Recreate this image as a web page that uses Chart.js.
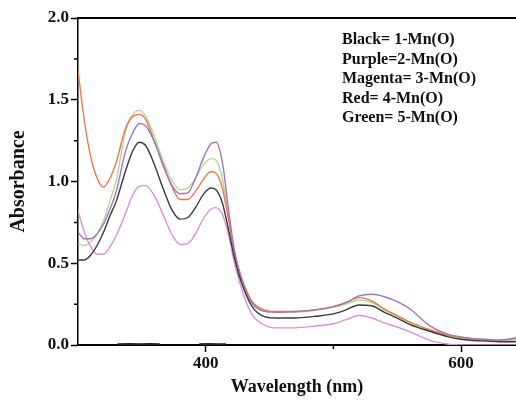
<!DOCTYPE html>
<html>
<head>
<meta charset="utf-8">
<script src="https://cdn.jsdelivr.net/npm/chart.js@4"></script>
<style>
  html, body { margin: 0; padding: 0; background: #fff; }
  #wrap { width: 516px; height: 400px; }
</style>
</head>
<body>
<div id="wrap"><canvas id="Chart1"></canvas></div>
<script>
// wavelengths (nm) shared by all five spectra
var wavelengths = [300, 305, 310, 315, 320, 325, 330, 337, 343, 348, 353, 360, 367, 374, 380, 386, 392, 398, 404, 408, 413, 418, 422, 426, 430, 436, 444, 455, 470, 485, 500, 510, 520, 530, 540, 550, 560, 575, 590, 600, 615, 630, 643];

var black = [0.52, 0.52, 0.55, 0.61, 0.69, 0.79, 0.88, 1.06, 1.19, 1.24, 1.22, 1.10, 0.95, 0.82, 0.77, 0.78, 0.84, 0.92, 0.96, 0.95, 0.87, 0.70, 0.55, 0.43, 0.34, 0.24, 0.18, 0.165, 0.165, 0.175, 0.19, 0.215, 0.245, 0.24, 0.20, 0.165, 0.125, 0.085, 0.05, 0.035, 0.025, 0.02, 0.02];
var purple = [0.69, 0.65, 0.65, 0.68, 0.74, 0.83, 0.94, 1.18, 1.30, 1.355, 1.34, 1.24, 1.09, 0.97, 0.925, 0.93, 1.02, 1.14, 1.23, 1.24, 1.12, 0.82, 0.60, 0.46, 0.36, 0.26, 0.21, 0.20, 0.205, 0.215, 0.235, 0.26, 0.30, 0.31, 0.295, 0.265, 0.22, 0.12, 0.065, 0.05, 0.035, 0.03, 0.04];
var magenta = [0.82, 0.69, 0.60, 0.555, 0.555, 0.60, 0.67, 0.80, 0.92, 0.97, 0.975, 0.91, 0.79, 0.67, 0.615, 0.62, 0.68, 0.77, 0.83, 0.84, 0.80, 0.67, 0.52, 0.40, 0.30, 0.19, 0.13, 0.105, 0.105, 0.115, 0.13, 0.155, 0.18, 0.165, 0.135, 0.11, 0.08, 0.03, 0.005, 0.0, 0.0, 0.0, 0.0];
var red = [1.68, 1.37, 1.15, 1.02, 0.965, 1.02, 1.12, 1.32, 1.40, 1.41, 1.38, 1.24, 1.10, 0.96, 0.89, 0.89, 0.94, 1.01, 1.06, 1.05, 0.96, 0.76, 0.58, 0.46, 0.37, 0.27, 0.22, 0.205, 0.205, 0.215, 0.235, 0.26, 0.29, 0.27, 0.22, 0.18, 0.14, 0.095, 0.06, 0.045, 0.035, 0.03, 0.045];
var green = [0.62, 0.61, 0.63, 0.68, 0.76, 0.88, 1.01, 1.30, 1.41, 1.435, 1.40, 1.27, 1.12, 1.00, 0.95, 0.96, 1.02, 1.10, 1.14, 1.13, 1.02, 0.78, 0.59, 0.46, 0.36, 0.26, 0.21, 0.20, 0.20, 0.21, 0.23, 0.25, 0.275, 0.26, 0.215, 0.175, 0.135, 0.09, 0.055, 0.04, 0.03, 0.025, 0.03];

// little black baseline trace lying on the x axis
var baseX = [331, 340, 348, 356, 364, 380, 395, 402, 409, 416];
var baseY = [0.005, 0.006, 0.005, 0.006, 0.005, null, 0.005, 0.006, 0.005, 0.005];

var seriesLabels = ["Black= 1-Mn(O)", "Purple=2-Mn(O)", "Magenta= 3-Mn(O)", "Red= 4-Mn(O)", "Green= 5-Mn(O)"];

var xTicks = [400, 500, 600];
var xTickLabels = ["400", "", "600"];
var xMinor = [500];
var yTicks = [0, 0.5, 1.0, 1.5, 2.0];
var yTickLabels = ["0.0", "0.5", "1.0", "1.5", "2.0"];
var yMinor = [0.25, 0.75, 1.25, 1.75];

function toPoints(xs, ys) {
  var pts = [];
  for (var i = 0; i < xs.length; i++) pts.push({ x: xs[i], y: ys[i] });
  return pts;
}

function spectrum(label, values, color) {
  return {
    label: label,
    data: toPoints(wavelengths, values),
    borderColor: color,
    borderWidth: 1.4,
    pointRadius: 0,
    cubicInterpolationMode: "monotone",
    fill: false,
  };
}

var serif = "'Liberation Serif', 'Times New Roman', serif";

// minor ticks, top frame line and the text key
var extras = {
  id: "extras",
  afterDraw: function (chart) {
    var ctx = chart.ctx;
    var area = chart.chartArea;
    var xs = chart.scales.x;
    var ys = chart.scales.y;
    ctx.save();
    ctx.strokeStyle = "#000";
    ctx.lineWidth = 1.5;
    ctx.beginPath();
    yMinor.forEach(function (v) {
      var p = ys.getPixelForValue(v);
      ctx.moveTo(area.left - 4, p);
      ctx.lineTo(area.left, p);
    });
    xMinor.forEach(function (v) {
      var p = xs.getPixelForValue(v);
      ctx.moveTo(p, area.bottom);
      ctx.lineTo(p, area.bottom + 4);
    });
    ctx.stroke();

    ctx.lineWidth = 2;
    ctx.beginPath();
    ctx.moveTo(area.left, area.top);
    ctx.lineTo(area.right, area.top);
    ctx.stroke();

    ctx.fillStyle = "#111";
    ctx.font = "bold 16px " + serif;
    ctx.textBaseline = "middle";
    ctx.textAlign = "left";
    seriesLabels.forEach(function (t, i) {
      ctx.fillText(t, 342, 40 + i * 19.5);
    });
    ctx.restore();
  },
};

var ctx = document.getElementById("Chart1").getContext("2d");
var myChart = new Chart(ctx, {
  type: "line",
  data: {
    datasets: [
      spectrum(seriesLabels[0], black, "#3a3a3a"),
      spectrum(seriesLabels[1], purple, "#a274c4"),
      spectrum(seriesLabels[2], magenta, "#d992d8"),
      spectrum(seriesLabels[3], red, "#f2774c"),
      spectrum(seriesLabels[4], green, "#addb92"),
      {
        label: "baseline",
        data: toPoints(baseX, baseY),
        borderColor: "#222",
        borderWidth: 2,
        pointRadius: 0,
        spanGaps: false,
      },
    ],
  },
  options: {
    responsive: true,
    maintainAspectRatio: false,
    animation: false,
    layout: { padding: { top: 18, right: 0, left: 0, bottom: 0 } },
    plugins: {
      legend: { display: false },
      tooltip: { enabled: false },
    },
    scales: {
      x: {
        type: "linear",
        min: 300,
        max: 643,
        afterFit: function (s) { s.height = 55; },
        afterBuildTicks: function (s) {
          s.ticks = xTicks.map(function (v) { return { value: v }; });
        },
        ticks: {
          color: "#111",
          font: { family: serif, size: 17, weight: "bold" },
          padding: 1,
          maxRotation: 0,
          callback: function (v) {
            var i = xTicks.indexOf(v);
            return i >= 0 ? xTickLabels[i] : "";
          },
        },
        grid: {
          drawOnChartArea: false,
          tickLength: 7,
          tickWidth: function (c) { return c.tick && xMinor.indexOf(c.tick.value) >= 0 ? 0 : 1.5; },
          tickColor: "#000",
        },
        border: { color: "#000", width: 2 },
        title: {
          display: true,
          text: "Wavelength (nm)",
          color: "#111",
          font: { family: serif, size: 18, weight: "bold" },
          padding: { top: 0, bottom: 2 },
        },
      },
      y: {
        min: 0,
        max: 2,
        afterFit: function (s) { s.width = 78; },
        afterBuildTicks: function (s) {
          s.ticks = yTicks.map(function (v) { return { value: v }; });
        },
        ticks: {
          color: "#111",
          font: { family: serif, size: 17, weight: "bold" },
          padding: 2,
          callback: function (v) {
            var i = yTicks.indexOf(v);
            return i >= 0 ? yTickLabels[i] : "";
          },
        },
        grid: {
          drawOnChartArea: false,
          tickLength: 7,
          tickWidth: 1.5,
          tickColor: "#000",
        },
        border: { color: "#000", width: 1.5 },
        title: {
          display: true,
          text: "Absorbance",
          color: "#111",
          font: { family: serif, size: 20, weight: "bold" },
          padding: { top: 7, bottom: 0 },
        },
      },
    },
  },
  plugins: [extras],
});
</script>
</body>
</html>
